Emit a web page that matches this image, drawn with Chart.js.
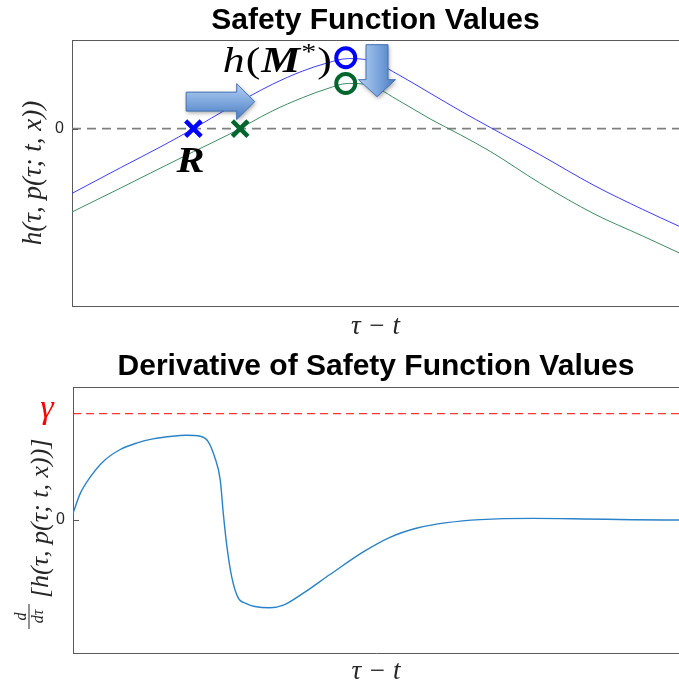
<!DOCTYPE html>
<html>
<head>
<meta charset="utf-8">
<script src="https://cdn.jsdelivr.net/npm/chart.js@4.4.1/dist/chart.umd.min.js"></script>
<style>
  html, body { margin: 0; padding: 0; background: #fff; }
  #wrap { position: relative; width: 679px; height: 685px; overflow: hidden; }
  .panel { position: absolute; left: 0; width: 679px; }
</style>
</head>
<body>
<div id="wrap">
  <div class="panel" style="top:0;height:345px"><canvas id="hPlot" width="679" height="345"></canvas></div>
  <div class="panel" style="top:345px;height:340px"><canvas id="dPlot" width="679" height="340"></canvas></div>
</div>
<script>
// Safety function along the horizon (tau - t), nominal and perturbed trajectories
const tau    = [0, 0.8, 1.5, 2.0, 2.6, 3.3, 3.8, 4.2, 4.55, 4.9, 5.4, 5.9, 6.4, 6.9, 7.7, 8.6, 9.4, 10];
const hBlue  = [-0.73, -0.44, -0.19, 0.0, 0.24, 0.50, 0.65, 0.74, 0.79, 0.77, 0.60, 0.40, 0.20, 0.01, -0.29, -0.64, -0.91, -1.10];
const hGreen = [-0.94, -0.67, -0.43, -0.26, -0.06, 0.20, 0.35, 0.45, 0.51, 0.49, 0.31, 0.11, -0.07, -0.26, -0.61, -0.96, -1.21, -1.40];

// First zero crossings (R) and maxima h(M*) of the two curves: [blue, green]
const rootTau = [2.0, 2.77];
const peakTau = [4.51, 4.51];
const peakH   = [0.80, 0.51];

// Time derivative of the safety function and its bound gamma
const dTau = [0, 0.12, 0.28, 0.5, 0.78, 1.06, 1.32, 1.6, 1.88, 2.1, 2.23, 2.34, 2.43, 2.48, 2.54, 2.62, 2.72, 2.87, 3.0, 3.25, 3.47, 3.8, 4.24, 4.79, 5.23, 5.68, 6.17, 6.72, 7.59, 8.42, 9.24, 10];
const dH   = [0.05, 0.20, 0.32, 0.44, 0.53, 0.58, 0.61, 0.628, 0.637, 0.63, 0.59, 0.47, 0.30, 0.05, -0.20, -0.43, -0.58, -0.63, -0.65, -0.66, -0.64, -0.55, -0.41, -0.24, -0.13, -0.06, -0.02, 0.003, 0.012, 0.008, 0.002, 0.0];
const gammaLevel = 0.80;

const tauRange = [0, 10];
const yTickValues = [0];

const pts = (xs, ys) => xs.map((x, i) => ({ x: x, y: ys[i] }));
const AXIS_COLOR = '#5a5a5a';
const TEXT_COLOR = '#262626';
const MATH_FONT = '"Liberation Serif", "DejaVu Serif", serif';
const SANS_FONT = '"Liberation Sans", Arial, sans-serif';

// Frame top edge, inward zero tick and the bold panel title
const panelDecor = {
  id: 'panelDecor',
  afterDraw(chart, args, opts) {
    const { ctx, chartArea: a } = chart;
    ctx.save();
    ctx.strokeStyle = AXIS_COLOR;
    ctx.lineWidth = 1;
    ctx.beginPath();
    ctx.moveTo(a.left, Math.round(a.top) + 0.5);
    ctx.lineTo(a.right, Math.round(a.top) + 0.5);
    ctx.stroke();
    yTickValues.forEach(v => {
      const y = Math.round(chart.scales.y.getPixelForValue(v)) + 0.5;
      ctx.beginPath();
      ctx.moveTo(a.left, y);
      ctx.lineTo(a.left + 6, y);
      ctx.stroke();
    });
    ctx.fillStyle = '#000';
    ctx.font = 'bold 30px ' + SANS_FONT;
    ctx.textAlign = 'center';
    ctx.textBaseline = 'alphabetic';
    ctx.fillText(opts.title, (a.left + a.right) / 2, opts.baseline);
    ctx.restore();
  }
};

// Writes a run of math pieces, widened a little like TeX glyphs
function mathRun(ctx, parts, x, baseline, align, sx) {
  let total = 0;
  parts.forEach(p => { ctx.font = p.f; p.w = ctx.measureText(p.t).width * sx + (p.gap || 0); total += p.w; });
  let cx = align === 'right' ? x - total : (align === 'center' ? x - total / 2 : x);
  ctx.textAlign = 'left';
  parts.forEach(p => {
    ctx.save();
    ctx.font = p.f;
    ctx.translate(cx, baseline + (p.dy || 0));
    ctx.scale(sx, 1);
    ctx.fillText(p.t, 0, 0);
    ctx.restore();
    cx += p.w;
  });
}

function blockArrow(ctx, pathFn, grad) {
  ctx.save();
  ctx.shadowColor = 'rgba(0,0,0,0.35)';
  ctx.shadowBlur = 4;
  ctx.shadowOffsetX = 1;
  ctx.shadowOffsetY = 2;
  ctx.beginPath();
  pathFn();
  ctx.closePath();
  ctx.fillStyle = grad;
  ctx.fill();
  ctx.shadowColor = 'transparent';
  ctx.strokeStyle = '#4372b4';
  ctx.lineWidth = 1;
  ctx.stroke();
  ctx.restore();
}

// Arrows and math labels placed in data coordinates
const hAnnotations = {
  id: 'hAnnotations',
  afterDatasetsDraw(chart) {
    const { ctx, scales: { x, y } } = chart;
    // right arrow (root moves later)
    const ax0 = x.getPixelForValue(1.88), ax1 = x.getPixelForValue(3.01), ayc = y.getPixelForValue(0.305);
    const bh = 19, hh = 36, hl = 18;
    let g = ctx.createLinearGradient(0, ayc - hh / 2, 0, ayc + hh / 2);
    g.addColorStop(0, '#b4cff2'); g.addColorStop(0.5, '#7fa8de'); g.addColorStop(1, '#4a7cc0');
    blockArrow(ctx, () => {
      ctx.moveTo(ax0, ayc - bh / 2);
      ctx.lineTo(ax1 - hl, ayc - bh / 2);
      ctx.lineTo(ax1 - hl, ayc - hh / 2);
      ctx.lineTo(ax1, ayc);
      ctx.lineTo(ax1 - hl, ayc + hh / 2);
      ctx.lineTo(ax1 - hl, ayc + bh / 2);
      ctx.lineTo(ax0, ayc + bh / 2);
    }, g);
    // down arrow (maximum decreases)
    const dxc = x.getPixelForValue(5.025), dy0 = y.getPixelForValue(0.947), dy1 = y.getPixelForValue(0.361);
    const bw = 22, hw = 37, dl = 17;
    g = ctx.createLinearGradient(dxc - hw / 2, 0, dxc + hw / 2, 0);
    g.addColorStop(0, '#b4cff2'); g.addColorStop(0.5, '#7fa8de'); g.addColorStop(1, '#4a7cc0');
    blockArrow(ctx, () => {
      ctx.moveTo(dxc - bw / 2, dy0);
      ctx.lineTo(dxc + bw / 2, dy0);
      ctx.lineTo(dxc + bw / 2, dy1 - dl);
      ctx.lineTo(dxc + hw / 2, dy1 - dl);
      ctx.lineTo(dxc, dy1);
      ctx.lineTo(dxc - hw / 2, dy1 - dl);
      ctx.lineTo(dxc - bw / 2, dy1 - dl);
    }, g);

    ctx.save();
    ctx.fillStyle = '#000';
    ctx.textBaseline = 'alphabetic';
    // h(M*) to the left of the upper maximum
    mathRun(ctx, [
      { t: 'h', f: 'italic 35px ' + MATH_FONT, gap: 1 },
      { t: '(', f: '35px ' + MATH_FONT, gap: 1 },
      { t: 'M', f: 'italic bold 35px ' + MATH_FONT, gap: 1 },
      { t: '*', f: '24px ' + MATH_FONT, dy: -13, gap: 1 },
      { t: ')', f: '35px ' + MATH_FONT }
    ], x.getPixelForValue(peakTau[0]) - 14, y.getPixelForValue(peakH[0]) + 14, 'right', 1.25);
    // R under the first zero crossing
    mathRun(ctx, [{ t: 'R', f: 'italic bold 35px ' + MATH_FONT }],
      x.getPixelForValue(rootTau[0]) - 3, y.getPixelForValue(0) + 43, 'center', 1.2);
    ctx.restore();
  }
};

// gamma label and the d/dtau axis label
const dAnnotations = {
  id: 'dAnnotations',
  afterDraw(chart) {
    const { ctx, chartArea: a, scales: { y } } = chart;
    ctx.save();
    ctx.fillStyle = '#ff0000';
    ctx.textBaseline = 'alphabetic';
    mathRun(ctx, [{ t: 'γ', f: 'italic 34px ' + MATH_FONT }], a.left - 26, y.getPixelForValue(gammaLevel) + 4, 'center', 1);

    const yStart = y.getPixelForValue(0) + 110;
    ctx.translate(48, yStart);
    ctx.rotate(-Math.PI / 2);
    ctx.fillStyle = TEXT_COLOR;
    ctx.font = 'italic 16px ' + MATH_FONT;
    ctx.textAlign = 'center';
    ctx.fillText('d', 13.5, -22);
    ctx.fillRect(1, -19.5, 25, 1);
    ctx.fillText('dτ', 13.5, -5);
    ctx.textAlign = 'left';
    ctx.font = 'italic 26px ' + MATH_FONT;
    ctx.fillText('[h(τ, p(τ; t, x))]', 32, 0);
    ctx.restore();
  }
};

function xAxis(height, padBottom) {
  return {
    type: 'linear', min: tauRange[0], max: tauRange[1],
    ticks: { display: false },
    grid: { display: false, drawTicks: false },
    border: { display: true, color: AXIS_COLOR, width: 1 },
    title: {
      display: true, text: 'τ − t', color: TEXT_COLOR,
      font: { family: MATH_FONT, style: 'italic', size: 27 },
      padding: { top: 0, bottom: padBottom }
    },
    afterFit(s) { s.height = height; }
  };
}

function yAxis(min, max, width, title) {
  return {
    type: 'linear', min: min, max: max,
    afterBuildTicks(s) { s.ticks = yTickValues.map(v => ({ value: v })); },
    ticks: { padding: 8, color: TEXT_COLOR, font: { family: SANS_FONT, size: 16 }, callback: v => String(v) },
    grid: { display: false, drawTicks: false },
    border: { display: true, color: AXIS_COLOR, width: 1 },
    title: title,
    afterFit(s) { s.width = width; }
  };
}

const common = {
  responsive: false,
  animation: false,
  devicePixelRatio: 1,
  plugins: { legend: { display: false }, tooltip: { enabled: false } }
};

new Chart(document.getElementById('hPlot'), {
  type: 'line',
  data: {
    datasets: [
      { data: [{ x: rootTau[0], y: 0 }], showLine: false, pointStyle: 'crossRot', pointRadius: 11, pointBorderWidth: 4.5, pointBorderColor: '#0000ff', order: 0 },
      { data: [{ x: rootTau[1], y: 0 }], showLine: false, pointStyle: 'crossRot', pointRadius: 11, pointBorderWidth: 4.5, pointBorderColor: '#00662e', order: 0 },
      { data: [{ x: peakTau[0], y: peakH[0] }], showLine: false, pointStyle: 'circle', pointRadius: 9.5, pointBorderWidth: 4, pointBorderColor: '#0000ff', pointBackgroundColor: 'rgba(0,0,0,0)', order: 0 },
      { data: [{ x: peakTau[1], y: peakH[1] }], showLine: false, pointStyle: 'circle', pointRadius: 9.5, pointBorderWidth: 4, pointBorderColor: '#00662e', pointBackgroundColor: 'rgba(0,0,0,0)', order: 0 },
      { data: pts(tau, hBlue), borderColor: '#3c3cff', borderWidth: 1, pointRadius: 0, cubicInterpolationMode: 'monotone', order: 1 },
      { data: pts(tau, hGreen), borderColor: '#3f8c62', borderWidth: 1, pointRadius: 0, cubicInterpolationMode: 'monotone', order: 1 },
      { data: pts(tauRange, [0, 0]), borderColor: '#808080', borderWidth: 1.6, borderDash: [9, 6], pointRadius: 0, order: 2 }
    ]
  },
  options: Object.assign({}, common, {
    layout: { autoPadding: false, padding: { top: 40, left: 0, right: 0, bottom: 0 } },
    scales: {
      x: xAxis(39, 2),
      y: yAxis(-2, 1, 72, {
        display: true, text: 'h(τ, p(τ; t, x))', color: TEXT_COLOR,
        font: { family: MATH_FONT, style: 'italic', size: 27 },
        padding: { top: 18, bottom: 0 }
      })
    },
    plugins: Object.assign({}, common.plugins, { panelDecor: { title: 'Safety Function Values', baseline: 29 } })
  }),
  plugins: [panelDecor, hAnnotations]
});

new Chart(document.getElementById('dPlot'), {
  type: 'line',
  data: {
    datasets: [
      { data: pts(dTau, dH), borderColor: '#2a82c8', borderWidth: 1.4, pointRadius: 0, cubicInterpolationMode: 'monotone', order: 0 },
      { data: pts(tauRange, [gammaLevel, gammaLevel]), borderColor: 'rgba(255,20,20,0.85)', borderWidth: 1.3, borderDash: [8, 5], pointRadius: 0, order: 1 }
    ]
  },
  options: Object.assign({}, common, {
    layout: { autoPadding: false, padding: { top: 42, left: 0, right: 0, bottom: 0 } },
    scales: {
      x: xAxis(32, -3),
      y: yAxis(-1, 1, 73, { display: false })
    },
    plugins: Object.assign({}, common.plugins, { panelDecor: { title: 'Derivative of Safety Function Values', baseline: 30 } })
  }),
  plugins: [panelDecor, dAnnotations]
});
</script>
</body>
</html>
